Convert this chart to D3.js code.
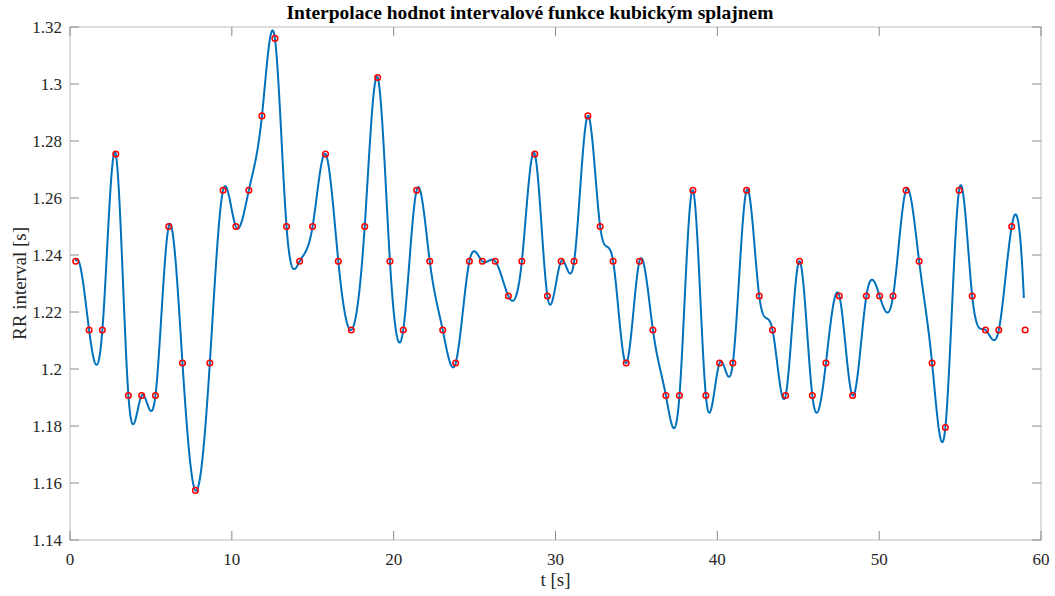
<!DOCTYPE html>
<html>
<head>
<meta charset="utf-8">
<script src="https://cdn.jsdelivr.net/npm/d3@7"></script>
<style>
  body { margin: 0; background: #fff; }
  svg { display: block; }
  text { font-family: "Liberation Serif", "Times New Roman", serif; }
</style>
</head>
<body>
<svg id="chart" width="1055" height="596"></svg>
<script>
// Sample times [s]
const times = [0.35, 1.18, 2.0, 2.83, 3.61, 4.43, 5.28, 6.10, 6.95, 7.75, 8.64, 9.46, 10.25, 11.05, 11.86, 12.66,
  13.38, 14.19, 14.99, 15.79, 16.58, 17.38, 18.21, 19.01, 19.77, 20.59, 21.42, 22.23, 23.03, 23.83, 24.68, 25.48,
  26.28, 27.09, 27.92, 28.72, 29.50, 30.35, 31.15, 32.0, 32.76, 33.56, 34.37, 35.19, 36.02, 36.82, 37.66, 38.49,
  39.29, 40.14, 40.96, 41.81, 42.59, 43.41, 44.22, 45.08, 45.87, 46.71, 47.54, 48.36, 49.21, 50.03, 50.86, 51.66,
  52.47, 53.27, 54.09, 54.94, 55.75, 56.57, 57.39, 58.19, 59.02];
// RR interval values [s]
const rrValues = [1.2378, 1.2137, 1.2137, 1.2754, 1.1907, 1.1907, 1.1907, 1.2500, 1.2021, 1.1574, 1.2021, 1.2627,
  1.2500, 1.2627, 1.2888, 1.3160, 1.2500, 1.2378, 1.2500, 1.2754, 1.2378, 1.2137, 1.2500, 1.3023, 1.2378, 1.2137,
  1.2627, 1.2378, 1.2137, 1.2021, 1.2378, 1.2378, 1.2378, 1.2256, 1.2378, 1.2754, 1.2256, 1.2378, 1.2378, 1.2888,
  1.2500, 1.2378, 1.2021, 1.2378, 1.2137, 1.1907, 1.1907, 1.2627, 1.1907, 1.2021, 1.2021, 1.2627, 1.2256, 1.2137,
  1.1907, 1.2378, 1.1907, 1.2021, 1.2256, 1.1907, 1.2256, 1.2256, 1.2256, 1.2627, 1.2378, 1.2021, 1.1795, 1.2627,
  1.2256, 1.2137, 1.2137, 1.2500, 1.2137];
// Spline evaluated from first sample to this end time
const splineEnd = 58.94;
const xTicks = [0, 10, 20, 30, 40, 50, 60];
const yTicks = [1.14, 1.16, 1.18, 1.2, 1.22, 1.24, 1.26, 1.28, 1.3, 1.32];
const titleText = "Interpolace hodnot intervalové funkce kubickým splajnem";
const xLabel = "t [s]";
const yLabel = "RR interval [s]";

// not-a-knot cubic spline (second-derivative form)
function spline(xs, ys) {
  const n = xs.length;
  const h = [];
  for (let i = 0; i < n - 1; i++) h.push(xs[i + 1] - xs[i]);
  const A = Array.from({length: n}, () => new Array(n).fill(0));
  const b = new Array(n).fill(0);
  A[0][0] = h[1]; A[0][1] = -(h[0] + h[1]); A[0][2] = h[0];
  for (let i = 1; i < n - 1; i++) {
    A[i][i - 1] = h[i - 1];
    A[i][i] = 2 * (h[i - 1] + h[i]);
    A[i][i + 1] = h[i];
    b[i] = 6 * ((ys[i + 1] - ys[i]) / h[i] - (ys[i] - ys[i - 1]) / h[i - 1]);
  }
  A[n - 1][n - 3] = h[n - 2]; A[n - 1][n - 2] = -(h[n - 3] + h[n - 2]); A[n - 1][n - 1] = h[n - 3];
  for (let c = 0; c < n; c++) {
    let p = c;
    for (let r = c + 1; r < n; r++) if (Math.abs(A[r][c]) > Math.abs(A[p][c])) p = r;
    [A[c], A[p]] = [A[p], A[c]]; [b[c], b[p]] = [b[p], b[c]];
    for (let r = c + 1; r < n; r++) {
      const f = A[r][c] / A[c][c];
      if (f === 0) continue;
      for (let k = c; k < n; k++) A[r][k] -= f * A[c][k];
      b[r] -= f * b[c];
    }
  }
  const M = new Array(n).fill(0);
  for (let r = n - 1; r >= 0; r--) {
    let s = b[r];
    for (let k = r + 1; k < n; k++) s -= A[r][k] * M[k];
    M[r] = s / A[r][r];
  }
  return function(x) {
    let i = 0;
    while (i < n - 2 && x > xs[i + 1]) i++;
    const hi = h[i], a = xs[i + 1] - x, bb = x - xs[i];
    return M[i] * a * a * a / (6 * hi) + M[i + 1] * bb * bb * bb / (6 * hi)
      + (ys[i] / hi - M[i] * hi / 6) * a + (ys[i + 1] / hi - M[i + 1] * hi / 6) * bb;
  };
}

const S = spline(times, rrValues);
const curve = [];
const step = 0.01;
for (let t = times[0]; t <= splineEnd + 1e-9; t += step) curve.push([t, S(t)]);

const svg = d3.select("#chart");
const margin = {left: 70, right: 14, top: 27, bottom: 56};
const W = 1055, H = 596;
const x = d3.scaleLinear().domain([0, 60]).range([margin.left, W - margin.right]);
const y = d3.scaleLinear().domain([1.14, 1.32]).range([H - margin.bottom, margin.top]);

const axisColor = "#bcbcbc";
const tickColor = "#8a8a8a";
const labelColor = "#262626";

svg.append("rect")
  .attr("x", x(0)).attr("y", y(1.32))
  .attr("width", x(60) - x(0)).attr("height", y(1.14) - y(1.32))
  .attr("fill", "#fff").attr("stroke", axisColor).attr("stroke-width", 1);

const tickLen = 9;
const xt = svg.append("g");
xTicks.forEach(v => {
  xt.append("line").attr("x1", x(v)).attr("x2", x(v)).attr("y1", y(1.14)).attr("y2", y(1.14) - tickLen)
    .attr("stroke", tickColor).attr("stroke-width", 1);
  xt.append("line").attr("x1", x(v)).attr("x2", x(v)).attr("y1", y(1.32)).attr("y2", y(1.32) + tickLen)
    .attr("stroke", tickColor).attr("stroke-width", 1);
  xt.append("text").attr("x", x(v)).attr("y", y(1.14) + 25).attr("text-anchor", "middle")
    .attr("font-size", 17).attr("fill", labelColor).text(d3.format("d")(v));
});
const yt = svg.append("g");
yTicks.forEach(v => {
  yt.append("line").attr("x1", x(0)).attr("x2", x(0) + tickLen).attr("y1", y(v)).attr("y2", y(v))
    .attr("stroke", tickColor).attr("stroke-width", 1);
  yt.append("line").attr("x1", x(60)).attr("x2", x(60) - tickLen).attr("y1", y(v)).attr("y2", y(v))
    .attr("stroke", tickColor).attr("stroke-width", 1);
  yt.append("text").attr("x", x(0) - 8).attr("y", y(v) + 6).attr("text-anchor", "end")
    .attr("font-size", 17).attr("fill", labelColor).text(d3.format("")(+v.toFixed(2)));
});

svg.append("path").datum(curve)
  .attr("fill", "none").attr("stroke", "#0072BD").attr("stroke-width", 2)
  .attr("stroke-linejoin", "round")
  .attr("d", d3.line().x(d => x(d[0])).y(d => y(d[1])));

svg.append("g").selectAll("circle").data(times.map((t, i) => [t, rrValues[i]])).join("circle")
  .attr("cx", d => x(d[0])).attr("cy", d => y(d[1])).attr("r", 2.8)
  .attr("fill", "none").attr("stroke", "#ff0000").attr("stroke-width", 1.5);

svg.append("text").attr("x", 530).attr("y", 19).attr("text-anchor", "middle")
  .attr("font-size", 19.5).attr("font-weight", "bold").attr("fill", "#000").text(titleText);
svg.append("text").attr("x", (x(0) + x(60)) / 2).attr("y", 586).attr("text-anchor", "middle")
  .attr("font-size", 19).attr("fill", labelColor).text(xLabel);
svg.append("text").attr("transform", `translate(26,${(y(1.14) + y(1.32)) / 2}) rotate(-90)`)
  .attr("text-anchor", "middle").attr("font-size", 19).attr("fill", labelColor).text(yLabel);
</script>
</body>
</html>
